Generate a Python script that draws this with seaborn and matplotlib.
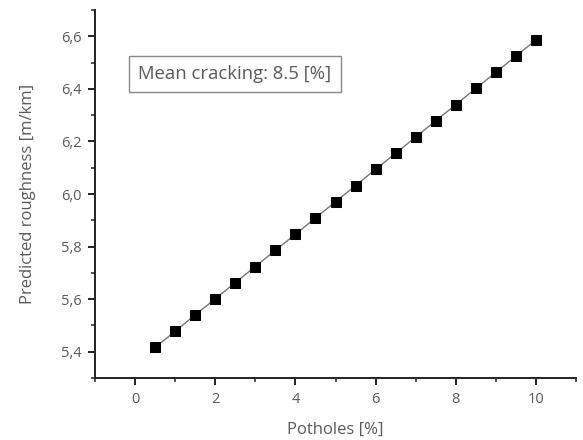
import seaborn as sns
import matplotlib.pyplot as plt
import matplotlib.ticker as mticker
import pandas as pd

# data
potholes = [0.5, 1.0, 1.5, 2.0, 2.5, 3.0, 3.5, 4.0, 4.5, 5.0,
            5.5, 6.0, 6.5, 7.0, 7.5, 8.0, 8.5, 9.0, 9.5, 10.0]
roughness = [5.416, 5.478, 5.540, 5.601, 5.663, 5.724, 5.786, 5.847, 5.909, 5.971,
             6.032, 6.094, 6.155, 6.217, 6.279, 6.340, 6.402, 6.463, 6.525, 6.586]

df = pd.DataFrame({'Potholes': potholes, 'Roughness': roughness})

sns.set_style('ticks')
plt.rcParams['font.family'] = ['Open Sans', 'DejaVu Sans']
txt = '#5a5a5a'

fig = plt.figure(figsize=(5.83, 4.4), dpi=100)
ax = fig.add_axes([0.163, 0.141, 0.825, 0.836])

sns.lineplot(data=df, x='Potholes', y='Roughness', ax=ax, color='#777777',
             linewidth=1.0, marker='s', markersize=7.5, markerfacecolor='black',
             markeredgecolor='black')

ax.set_xlim(-1, 11)
ax.set_ylim(5.3, 6.7)
ax.xaxis.set_major_locator(mticker.MultipleLocator(2))
ax.xaxis.set_minor_locator(mticker.MultipleLocator(1))
ax.yaxis.set_major_locator(mticker.MultipleLocator(0.2))
ax.yaxis.set_minor_locator(mticker.MultipleLocator(0.1))
ax.yaxis.set_major_formatter(mticker.FuncFormatter(lambda v, p: f'{v:.1f}'.replace('.', ',')))

sns.despine(ax=ax)
for s in ['left', 'bottom']:
    ax.spines[s].set_linewidth(1.4)
    ax.spines[s].set_color('#222222')
ax.tick_params(which='major', length=5, width=1.4, color='#222222', labelsize=10.5,
               labelcolor=txt, pad=5)
ax.tick_params(which='minor', length=3, width=1.1, color='#222222')

ax.set_xlabel('Potholes [%]', fontsize=12, color=txt, labelpad=11)
ax.set_ylabel('Predicted roughness [m/km]', fontsize=12, color=txt, labelpad=18)

ax.text(0.09, 0.826, 'Mean cracking: 8.5 [%]', transform=ax.transAxes,
        fontsize=13.3, color=txt, va='center', ha='left',
        bbox=dict(boxstyle='square,pad=0.5', facecolor='white', edgecolor='#888888', linewidth=1))

fig.savefig('out.png', dpi=100)
